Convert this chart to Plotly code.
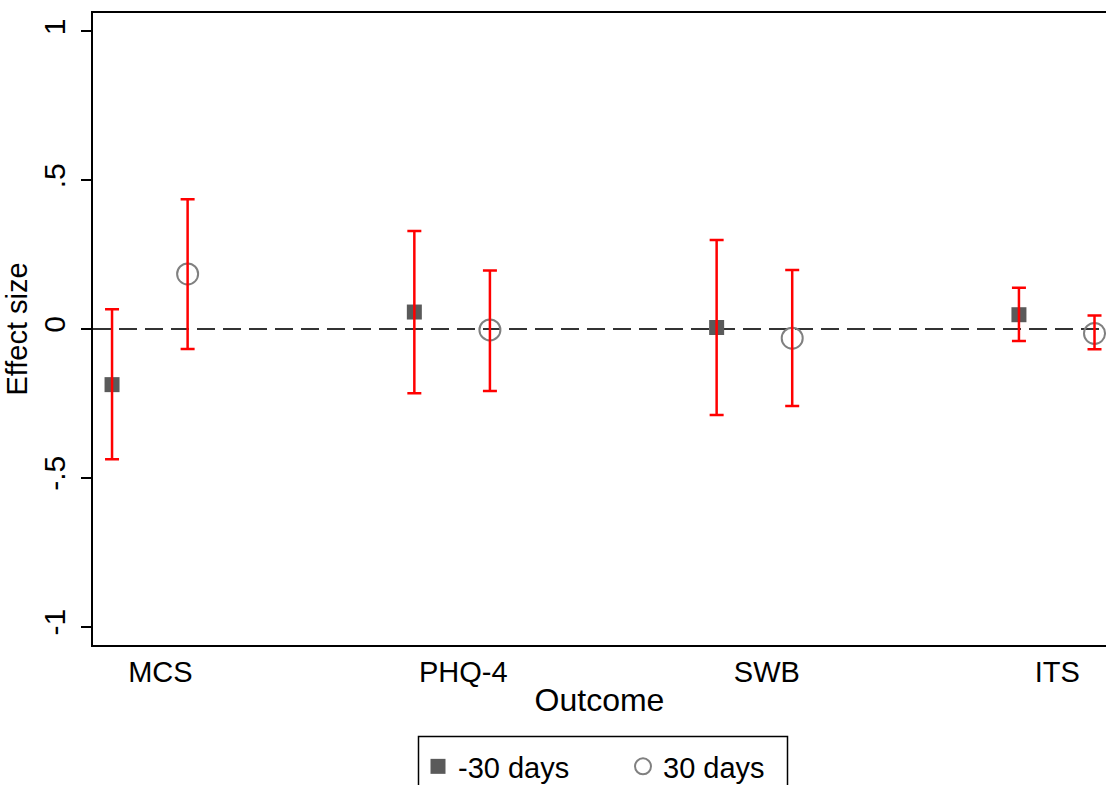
import plotly.graph_objects as go

outcomes = ["MCS", "PHQ-4", "SWB", "ITS"]
label_pos = [1.16, 2.162, 3.166, 4.127]
pos_m30 = [1, 2, 3, 4]
pos_p30 = [1.25, 2.25, 3.25, 4.25]
est_m30 = [-0.187, 0.057, 0.005, 0.048]
lo_m30 = [-0.438, -0.216, -0.289, -0.040]
hi_m30 = [0.066, 0.329, 0.299, 0.139]
est_p30 = [0.185, -0.003, -0.031, -0.015]
lo_p30 = [-0.067, -0.208, -0.259, -0.068]
hi_p30 = [0.436, 0.197, 0.198, 0.045]
ytick_vals = [-1, -0.5, 0, 0.5, 1]
ytick_text = ["-1", "-.5", "0", ".5", "1"]

FONT = "Liberation Sans, Arial, sans-serif"
W, H = 1106, 785
L, R, T, B = 93, 0, 13, 140
PW, PH = W - L - R, H - T - B


def px_x(p):
    return (p - L) / PW


def px_y(p):
    return (H - B - p) / PH


fig = go.Figure()

fig.add_trace(go.Scatter(
    x=pos_m30, y=est_m30, mode="markers", name="-30 days",
    marker=dict(symbol="square", size=15, color="#5a5a5a"),
))
fig.add_trace(go.Scatter(
    x=pos_p30, y=est_p30, mode="markers", name="30 days",
    marker=dict(symbol="circle-open", size=21, color="#808080",
                line=dict(width=2, color="#808080")),
))

for xs, est, lo, hi in [(pos_m30, est_m30, lo_m30, hi_m30),
                        (pos_p30, est_p30, lo_p30, hi_p30)]:
    fig.add_trace(go.Scatter(
        x=xs, y=est, mode="markers", showlegend=False, hoverinfo="skip",
        marker=dict(size=1, color="rgba(0,0,0,0)"),
        error_y=dict(type="data", symmetric=False,
                     array=[h - e for h, e in zip(hi, est)],
                     arrayminus=[e - l for e, l in zip(est, lo)],
                     color="#ff0000", thickness=2.5, width=7),
    ))

fig.add_shape(type="line", xref="paper", yref="y", x0=0, x1=1, y0=0, y1=0,
              line=dict(color="#333333", width=2.2, dash="18px,8px"), layer="below")

# legend frame
fig.add_shape(type="rect", xref="paper", yref="paper",
              x0=px_x(418.5), x1=px_x(787.5), y0=px_y(801), y1=px_y(736.5),
              line=dict(color="black", width=1.5), fillcolor="rgba(0,0,0,0)")

fig.update_layout(
    width=W, height=H,
    margin=dict(l=L, r=R, t=T, b=B, autoexpand=False),
    paper_bgcolor="white", plot_bgcolor="white",
    font=dict(family=FONT, size=29, color="black"),
    showlegend=True,
    legend=dict(
        orientation="h", x=px_x(418), y=px_y(741),
        xanchor="left", yanchor="top",
        borderwidth=0, bgcolor="rgba(0,0,0,0)",
        font=dict(family=FONT, size=29, color="black"),
        entrywidth=160, entrywidthmode="pixels", itemwidth=30,
    ),
    xaxis=dict(
        range=[0.937, 4.288], tickmode="array", tickvals=label_pos, ticktext=outcomes,
        ticks="", showgrid=False, zeroline=False,
        showline=True, linecolor="black", linewidth=2, mirror=True,
        tickfont=dict(size=29), title=dict(text="Outcome", font=dict(size=32), standoff=2),
    ),
    yaxis=dict(
        range=[-1.062, 1.062], tickmode="array", tickvals=ytick_vals, ticktext=ytick_text,
        ticks="outside", ticklen=10, tickwidth=2, tickcolor="black", tickangle=-90,
        ticklabelstandoff=4,
        showgrid=False, zeroline=False,
        showline=True, linecolor="black", linewidth=2, mirror=False,
        tickfont=dict(size=30), title=dict(text="Effect size", font=dict(size=29), standoff=2),
    ),
)

fig.write_html("out.html")
